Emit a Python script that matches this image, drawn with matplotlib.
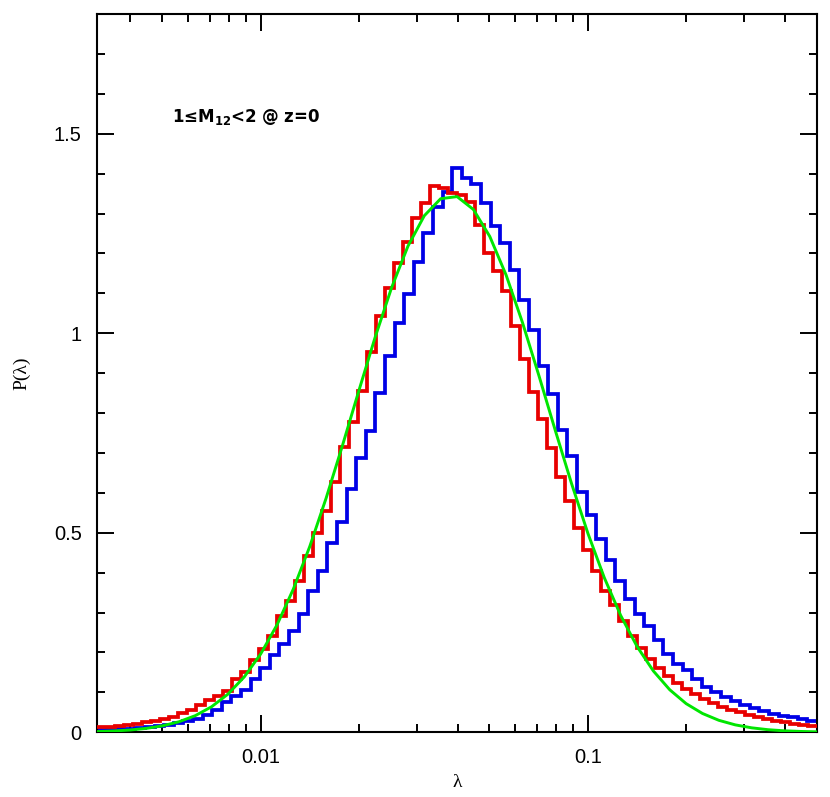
import numpy as np
import matplotlib
matplotlib.use("Agg")
import matplotlib.pyplot as plt
from matplotlib.ticker import FixedLocator, NullFormatter

# histogram bins (log10 lambda), two different binnings
LOG_MIN = -2.5
LOG_MAX = -0.3
N_RED = 80
N_BLUE = 75

RED_VALUES = [
    0.012, 0.014, 0.016, 0.019, 0.022, 0.025, 0.028, 0.033, 0.038, 0.048,
    0.056, 0.068, 0.081, 0.091, 0.104, 0.133, 0.152, 0.181, 0.209, 0.242,
    0.292, 0.330, 0.378, 0.443, 0.499, 0.555, 0.626, 0.714, 0.778, 0.855,
    0.954, 1.044, 1.113, 1.177, 1.228, 1.290, 1.326, 1.370, 1.363, 1.351,
    1.347, 1.330, 1.271, 1.201, 1.155, 1.105, 1.017, 0.935, 0.853, 0.784,
    0.712, 0.641, 0.580, 0.511, 0.457, 0.404, 0.355, 0.320, 0.280, 0.242,
    0.210, 0.183, 0.160, 0.140, 0.123, 0.108, 0.095, 0.083, 0.073, 0.064,
    0.057, 0.050, 0.044, 0.039, 0.034, 0.029, 0.025, 0.022, 0.019, 0.017,
]

BLUE_VALUES = [
    0.006, 0.007, 0.008, 0.009, 0.011, 0.013, 0.016, 0.019, 0.023, 0.028,
    0.034, 0.044, 0.056, 0.077, 0.091, 0.106, 0.133, 0.160, 0.194, 0.222,
    0.255, 0.297, 0.353, 0.404, 0.474, 0.528, 0.609, 0.687, 0.754, 0.851,
    0.943, 1.025, 1.099, 1.178, 1.250, 1.317, 1.353, 1.415, 1.388, 1.374,
    1.326, 1.269, 1.226, 1.159, 1.084, 1.008, 0.918, 0.847, 0.758, 0.693,
    0.603, 0.545, 0.484, 0.432, 0.380, 0.334, 0.297, 0.267, 0.231, 0.196,
    0.170, 0.156, 0.134, 0.114, 0.102, 0.089, 0.079, 0.068, 0.060, 0.054,
    0.046, 0.041, 0.038, 0.033, 0.028,
]

# green curve, read every 0.05 dex
GREEN_LOGX = [
    -2.50, -2.45, -2.40, -2.35, -2.30, -2.25, -2.20, -2.15, -2.10, -2.05,
    -2.00, -1.95, -1.90, -1.85, -1.80, -1.75, -1.70, -1.65, -1.60, -1.55,
    -1.50, -1.45, -1.40, -1.35, -1.30, -1.25, -1.20, -1.15, -1.10, -1.05,
    -1.00, -0.95, -0.90, -0.85, -0.80, -0.75, -0.70, -0.65, -0.60, -0.55,
    -0.50, -0.45, -0.40, -0.35, -0.30,
]
GREEN_Y = [
    0.0017, 0.0032, 0.0056, 0.0097, 0.0162, 0.0263, 0.0416, 0.0640, 0.0956, 0.1389,
    0.1962, 0.2693, 0.3593, 0.4656, 0.5868, 0.7189, 0.8560, 0.9906, 1.1142, 1.2182,
    1.2946, 1.3372, 1.3425, 1.3102, 1.2427, 1.1457, 1.0267, 0.8943, 0.7570, 0.6230,
    0.4982, 0.3873, 0.2928, 0.2150, 0.1535, 0.1065, 0.0718, 0.0471, 0.0300, 0.0186,
    0.0112, 0.0065, 0.0037, 0.0021, 0.0011,
]

X_MAJOR = [0.01, 0.1]
X_MAJOR_LABELS = ["0.01", "0.1"]
X_MINOR = [0.004, 0.005, 0.006, 0.007, 0.008, 0.009,
           0.02, 0.03, 0.04, 0.05, 0.06, 0.07, 0.08, 0.09,
           0.2, 0.3, 0.4]
Y_MAJOR = [0, 0.5, 1, 1.5]
Y_MAJOR_LABELS = ["0", "0.5", "1", "1.5"]

RED = "#e80000"
BLUE = "#0000e6"
GREEN = "#00e600"
TICK_FONT = "Liberation Sans"
LABEL_FONT = "Liberation Serif"


def main():
    fig = plt.figure(figsize=(8.30, 7.97), dpi=100)
    ax = fig.add_axes([0.1169, 0.0812, 0.8675, 0.9012])

    red_edges = 10 ** np.linspace(LOG_MIN, LOG_MAX, N_RED + 1)
    blue_edges = 10 ** np.linspace(LOG_MIN, LOG_MAX, N_BLUE + 1)

    ax.stairs(BLUE_VALUES, blue_edges, baseline=None, color=BLUE, lw=2.7, zorder=2)
    ax.stairs(RED_VALUES, red_edges, baseline=None, color=RED, lw=2.7, zorder=3)
    ax.plot(10 ** np.array(GREEN_LOGX), GREEN_Y, color=GREEN, lw=2.1, zorder=4)

    ax.set_xscale("log")
    ax.set_xlim(10 ** LOG_MIN, 10 ** LOG_MAX)
    ax.set_ylim(0, 1.8)

    ax.xaxis.set_major_locator(FixedLocator(X_MAJOR))
    ax.set_xticklabels(X_MAJOR_LABELS)
    ax.xaxis.set_minor_locator(FixedLocator(X_MINOR))
    ax.xaxis.set_minor_formatter(NullFormatter())
    ax.yaxis.set_major_locator(FixedLocator(Y_MAJOR))
    ax.set_yticklabels(Y_MAJOR_LABELS)
    ax.yaxis.set_minor_locator(FixedLocator(np.arange(0, 1.81, 0.1)))

    ax.tick_params(which="both", direction="in", top=True, right=True,
                   width=1.4, colors="black")
    ax.tick_params(which="major", length=12, pad=11, labelsize=14.5)
    ax.tick_params(which="minor", length=5.5)
    for lab in ax.get_xticklabels() + ax.get_yticklabels():
        lab.set_fontfamily(TICK_FONT)
    for s in ax.spines.values():
        s.set_linewidth(1.5)

    ax.set_xlabel("λ", fontsize=14, family=LABEL_FONT, labelpad=5)
    ax.set_ylabel("P(λ)", fontsize=14, family=LABEL_FONT, labelpad=17)

    ax.text(0.104, 0.857, r"1≤M$_{\mathbf{12}}$<2 @ z=0", transform=ax.transAxes,
            fontsize=12, fontweight="bold", family="DejaVu Sans",
            ha="left", va="center")

    fig.savefig("out.png", dpi=100)


if __name__ == "__main__":
    main()
